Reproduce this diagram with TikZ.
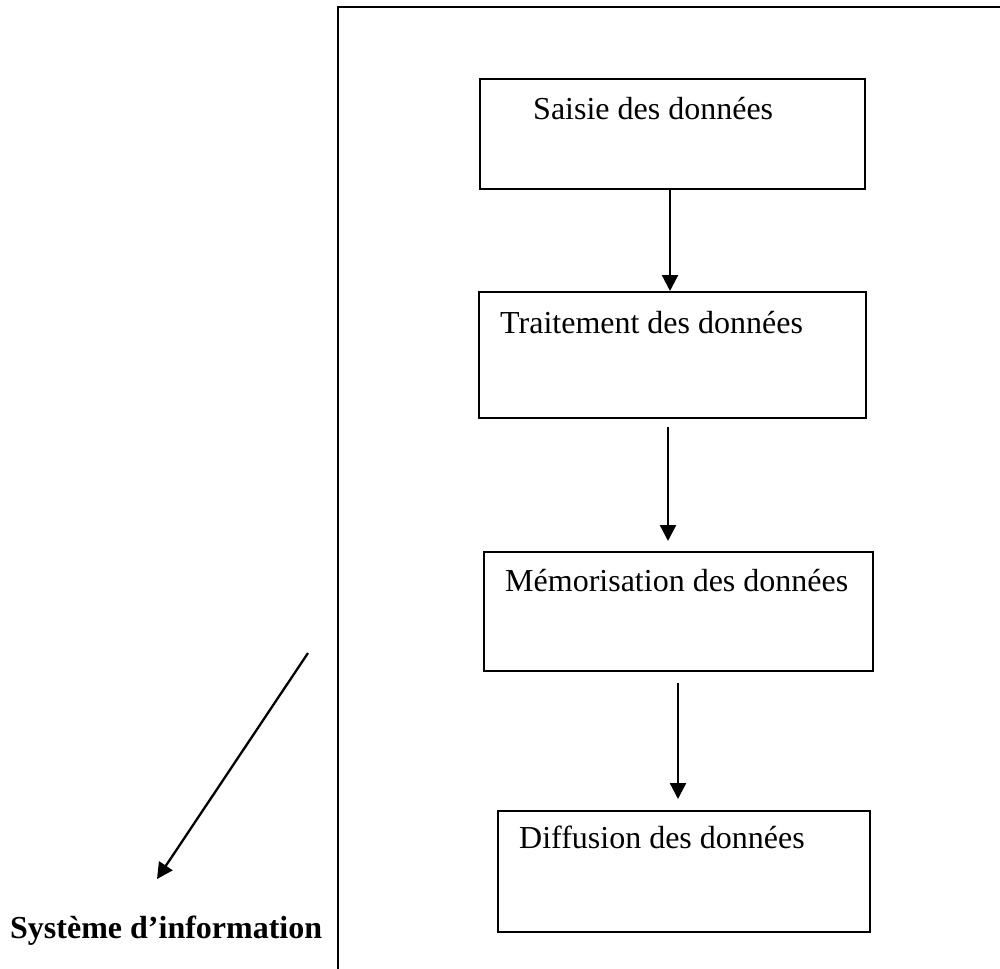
\documentclass[tikz,border=0pt]{standalone}
\usepackage{fontspec}
\setmainfont{Liberation Serif}
\usetikzlibrary{arrows.meta}
\tikzset{
  procbox/.style={draw, line width=2pt, rectangle, inner sep=0pt, anchor=north west},
  boxtext/.style={anchor=base west, inner sep=0pt, font=\fontsize{32}{38}\selectfont},
  flow/.style={line width=2.3pt, -{Triangle[width=16pt,length=16pt]}},
  frame/.style={draw, line width=2.4pt}
}
\begin{document}
\begin{tikzpicture}[x=1pt,y=-1pt]
\useasboundingbox (0,0) rectangle (1000,968);
\clip (0,0) rectangle (1000,968);
% outer frame (open to the right and bottom)
\draw[frame] (338,1010) -- (338,7) -- (1020,7);
% process boxes
\node[procbox, minimum width=385pt, minimum height=110pt] (b1) at (479,78) {};
\node[procbox, minimum width=387pt, minimum height=126pt] (b2) at (478,291) {};
\node[procbox, minimum width=389pt, minimum height=119pt] (b3) at (483,551) {};
\node[procbox, minimum width=372pt, minimum height=121pt] (b4) at (497,810) {};
% texts
\node[boxtext] (t1) at (533,120) {Saisie des données};
\node[boxtext] (t2) at (500,333) {Traitement des données};
\node[boxtext] (t3) at (505,591) {Mémorisation des données};
\node[boxtext] (t4) at (519,848) {Diffusion des données};
\node[boxtext, font=\fontsize{32}{38}\selectfont\bfseries] (si) at (10,938) {Système d’information};
% arrows
\coordinate (a2s) at (668,427);
\coordinate (a2e) at (668,541);
\coordinate (a3s) at (678,683);
\coordinate (a3e) at (678,799);
\coordinate (d1) at (308,653);
\coordinate (d2) at (157,879);
\draw[flow] (b1.south -| 670,0) -- (b2.north -| 670,0);
\draw[flow] (a2s) -- (a2e);
\draw[flow] (a3s) -- (a3e);
\draw[flow] (d1) -- (d2);
\end{tikzpicture}
\end{document}
